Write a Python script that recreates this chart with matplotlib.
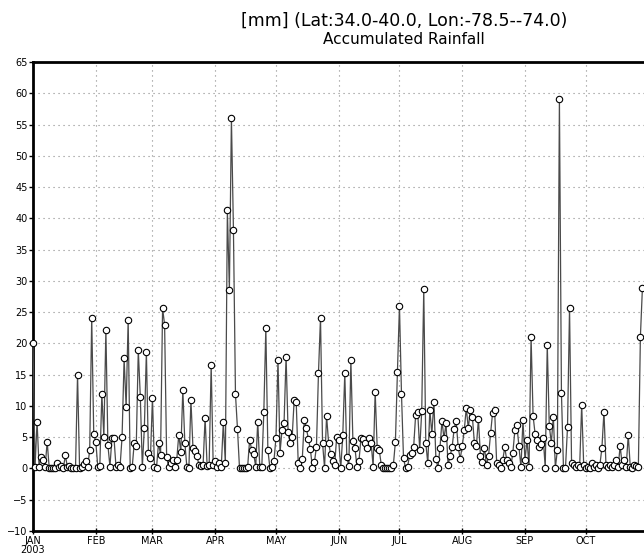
import matplotlib
matplotlib.use("Agg")
import matplotlib.pyplot as plt
import numpy as np

# Daily accumulated rainfall [mm], starting 1 Jan 2003
rain = [
    20.0, 0.2, 7.5, 0.3, 1.9, 1.4, 0.2, 4.3, 0.1, 0.1,
    0.0, 0.1, 0.8, 0.3, 0.4, 0.1, 2.1, 0.2, 0.4, 0.1,
    0.0, 0.1, 15.0, 0.1, 0.3, 0.7, 1.2, 0.3, 2.9, 24.1,
    5.5, 4.3, 0.3, 0.4, 11.9, 5.1, 22.2, 3.7, 0.3, 4.9,
    4.9, 0.2, 0.5, 0.3, 5.1, 17.6, 9.8, 23.8, 0.1, 0.2,
    4.1, 3.6, 18.9, 11.5, 0.2, 6.5, 18.7, 2.4, 1.6, 11.3,
    0.2, 0.1, 4.1, 2.2, 25.6, 23.0, 1.9, 0.2, 0.8, 1.3,
    0.2, 1.4, 5.4, 2.6, 12.6, 4.1, 0.2, 0.1, 11.0, 3.3,
    2.8, 2.0, 0.5, 0.4, 0.5, 8.1, 0.4, 0.6, 16.6, 0.5,
    1.2, 0.3, 0.8, 0.3, 7.4, 0.8, 41.3, 28.6, 56.0, 38.1,
    11.9, 6.3, 0.0, 0.0, 0.0, 0.1, 0.2, 4.6, 3.0, 2.3,
    0.3, 7.5, 0.3, 0.2, 9.0, 22.5, 3.0, 0.1, 0.3, 1.2,
    4.9, 17.4, 2.5, 6.2, 7.3, 17.9, 5.8, 4.1, 5.0, 11.0,
    10.7, 0.8, 0.1, 1.5, 7.8, 6.5, 4.7, 3.1, 0.1, 1.0,
    3.5, 15.3, 24.1, 4.1, 0.1, 8.4, 4.1, 2.3, 1.2, 0.6,
    5.1, 4.5, 0.0, 5.3, 15.3, 1.8, 0.4, 17.4, 4.4, 3.3,
    0.3, 1.2, 4.9, 4.7, 4.1, 3.3, 4.9, 4.1, 0.3, 12.3,
    3.3, 3.0, 0.6, 0.0, 0.0, 0.1, 0.0, 0.1, 0.6, 4.3,
    15.5, 26.0, 11.9, 1.6, 0.1, 0.3, 2.1, 2.5, 3.4, 8.6,
    9.1, 3.0, 9.2, 28.7, 4.1, 0.8, 9.4, 5.5, 10.7, 1.5,
    0.1, 3.3, 7.6, 4.8, 7.2, 0.5, 2.0, 3.4, 6.3, 7.6,
    3.4, 1.5, 3.6, 6.1, 9.7, 6.4, 9.4, 8.3, 4.1, 3.6,
    7.9, 2.0, 1.0, 3.3, 0.5, 2.0, 5.6, 8.9, 9.4, 0.9,
    0.5, 0.1, 1.3, 3.4, 1.3, 0.8, 0.3, 2.5, 6.1, 6.9,
    3.6, 0.2, 7.7, 1.3, 4.6, 0.3, 21.1, 8.4, 5.5, 4.5,
    3.4, 3.9, 4.9, 0.1, 19.8, 6.8, 4.1, 8.3, 0.1, 3.0,
    59.1, 12.1, 0.1, 0.1, 6.6, 25.6, 0.9, 0.5, 0.3, 0.6,
    0.3, 10.2, 0.5, 0.1, 0.2, 0.0, 0.8, 0.3, 0.5, 0.0,
    0.6, 3.3, 9.1, 0.5, 0.2, 0.6, 0.2, 0.5, 1.3, 0.2,
    3.6, 0.6, 1.4, 0.3, 5.4, 0.2, 0.1, 0.5, 0.4, 0.3,
    21.1, 28.9,
]
month_starts = [0, 31, 59, 90, 120, 151, 181, 212, 243, 273]
month_labels = ["JAN\n2003", "FEB", "MAR", "APR", "MAY", "JUN",
                "JUL", "AUG", "SEP", "OCT"]
y_ticks = list(range(-10, 66, 5))

W, H = 644, 554
fig = plt.figure(figsize=(W / 100, H / 100), dpi=100)
left, right, top, bottom = 33, 772, 62, 531
ax = fig.add_axes([left / W, (H - bottom) / H, (right - left) / W, (bottom - top) / H])

days = np.arange(len(rain))
ax.plot(days, rain, color="#4a4a4a", lw=0.9, zorder=3, clip_on=False)
ax.plot(days, rain, ls="none", marker="o", ms=4.6, mfc="white", mec="black",
        mew=0.8, zorder=4, clip_on=False)

ax.set_xlim(0, 365)
ax.set_ylim(-10, 65)
ax.set_xticks(month_starts)
ax.set_xticklabels(month_labels, fontsize=7, linespacing=0.85)
ax.set_yticks(y_ticks)
ax.set_yticklabels([str(v).replace("-", "\u2212") for v in y_ticks], fontsize=7)
ax.tick_params(axis="y", direction="out", length=3, width=1, pad=1)
ax.tick_params(axis="x", direction="inout", length=5, width=1, pad=1)

ax.grid(True, color="#8a8a8a", lw=0.8, ls=(0, (1, 3.5)))
ax.set_axisbelow(True)
for s in ax.spines.values():
    s.set_linewidth(2.0)
    s.set_color("black")

fig.text(0.627, 1 - 21 / H, "[mm] (Lat:34.0-40.0, Lon:-78.5--74.0)",
         ha="center", va="center", fontsize=12.5)
fig.text(0.627, 1 - 39 / H, "Accumulated Rainfall",
         ha="center", va="center", fontsize=11)

fig.savefig("out.png", dpi=100)
